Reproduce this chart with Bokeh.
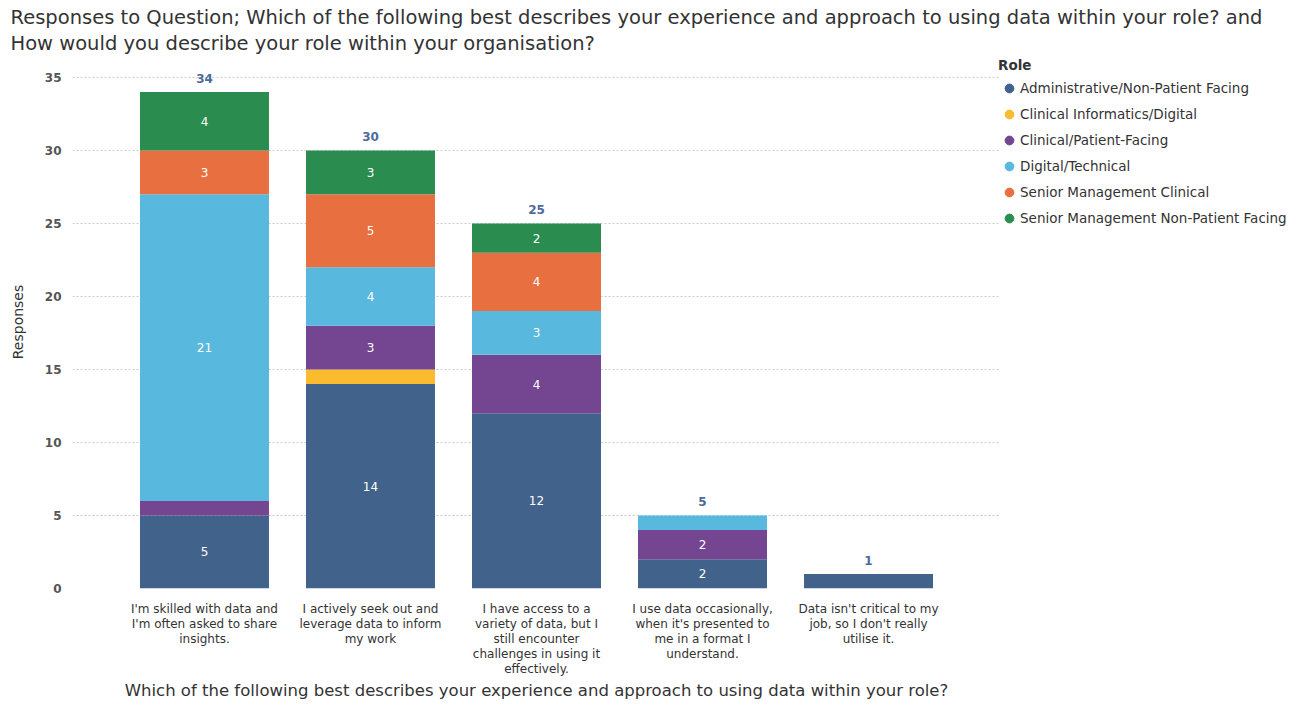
from bokeh.plotting import figure
from bokeh.models import FactorRange, Range1d, Legend, LegendItem, ColumnDataSource
from bokeh.core.properties import value
from bokeh.embed import file_html
from bokeh.resources import INLINE

categories = [
    "I'm skilled with data and\nI'm often asked to share\ninsights.",
    "I actively seek out and\nleverage data to inform\nmy work",
    "I have access to a\nvariety of data, but I\nstill encounter\nchallenges in using it\neffectively.",
    "I use data occasionally,\nwhen it's presented to\nme in a format I\nunderstand.",
    "Data isn't critical to my\njob, so I don't really\nutilise it.",
]
roles = [
    "Administrative/Non-Patient Facing",
    "Clinical Informatics/Digital",
    "Clinical/Patient-Facing",
    "Digital/Technical",
    "Senior Management Clinical",
    "Senior Management Non-Patient Facing",
]
admin = [5, 14, 12, 2, 1]
clin_info = [0, 1, 0, 0, 0]
clinical = [1, 3, 4, 2, 0]
digital = [21, 4, 3, 1, 0]
senior_clin = [3, 5, 4, 0, 0]
senior_np = [4, 3, 2, 0, 0]
colors = ["#41628a", "#fbbb2e", "#744590", "#58b8de", "#e87040", "#2a8c4e"]
y_ticks = [0, 5, 10, 15, 20, 25, 30, 35]

series = [admin, clin_info, clinical, digital, senior_clin, senior_np]
keys = ["s%d" % i for i in range(len(roles))]

data = {"cat": categories}
for k, s in zip(keys, series):
    data[k] = s
source = ColumnDataSource(data)

p = figure(
    frame_width=928, frame_height=533,
    x_range=FactorRange(factors=categories, range_padding=0.295, range_padding_units="absolute"),
    y_range=Range1d(0, 36.5),
    output_backend="svg", toolbar_location=None,
    min_border_left=72, min_border_right=311, min_border_top=55, min_border_bottom=121,
)
p.title.text = ("Responses to Question; Which of the following best describes your experience and approach to using data within your role? and\n"
                "How would you describe your role within your organisation?")
p.title.text_font = "DejaVu Sans"
p.title.text_font_size = "19.5px"
p.title.text_font_style = "normal"
p.title.text_color = "#333333"
p.title.text_line_height = 1.15
p.title.offset = -62
p.title.standoff = 0

p.vbar_stack(keys, x="cat", width=0.777, color=colors, source=source, line_color=None)

# segment labels
lx, ly, lt = [], [], []
for i, c in enumerate(categories):
    base = 0
    for s in series:
        v = s[i]
        if v >= 2:
            lx.append(c)
            ly.append(base + v / 2)
            lt.append(str(v))
        base += v
p.text(x=lx, y=ly, text=lt, text_color="white", text_font=value("DejaVu Sans"),
       text_font_size="12px", text_align="center", text_baseline="middle")

totals = [sum(s[i] for s in series) for i in range(len(categories))]
p.text(x=categories, y=totals, text=[str(t) for t in totals], text_color="#4e6a9a",
       text_font=value("DejaVu Sans"), text_font_size="12px", text_font_style="bold",
       text_align="center", text_baseline="bottom", y_offset=-9)

# legend with circle markers (hidden NaN points, only used for legend glyphs)
items = []
for r, c in zip(roles, colors):
    rr = p.scatter(x=[categories[0]], y=[float("nan")], marker="circle", size=10, color=c)
    items.append(LegendItem(label=r, renderers=[rr]))
legend = Legend(items=items, title="Role", location=(-2, 358),
                title_text_font="DejaVu Sans", title_text_font_size="13.5px",
                title_text_font_style="bold", title_text_color="#333333",
                title_standoff=3,
                label_text_font="DejaVu Sans", label_text_font_size="13.5px",
                label_text_color="#333333", glyph_width=22, glyph_height=24,
                label_height=24, spacing=2, label_standoff=0, padding=0, margin=0,
                border_line_color=None, background_fill_alpha=0)
p.add_layout(legend, "right")

p.xgrid.grid_line_color = None
p.ygrid.grid_line_color = "#c8c8c8"
p.ygrid.grid_line_dash = "2 2"
p.outline_line_color = None

p.yaxis.ticker = y_ticks
p.yaxis.axis_line_color = None
p.yaxis.major_tick_line_color = None
p.yaxis.minor_tick_line_color = None
p.yaxis.major_label_text_font = "DejaVu Sans"
p.yaxis.major_label_text_font_size = "12px"
p.yaxis.major_label_text_font_style = "bold"
p.yaxis.major_label_text_color = "#555555"
p.yaxis.axis_label = "Responses"
p.yaxis.axis_label_text_font = "DejaVu Sans"
p.yaxis.axis_label_text_font_size = "14px"
p.yaxis.axis_label_text_font_style = "normal"
p.yaxis.axis_label_text_color = "#333333"
p.yaxis.axis_label_standoff = 16

p.xaxis.axis_line_color = None
p.xaxis.major_tick_line_color = None
p.xaxis.major_label_text_font = "DejaVu Sans"
p.xaxis.major_label_text_font_size = "12px"
p.xaxis.major_label_text_line_height = 1.08
p.xaxis.major_label_text_color = "#333333"
p.xaxis.major_label_standoff = 7
p.xaxis.axis_label = "Which of the following best describes your experience and approach to using data within your role?"
p.xaxis.axis_label_text_font = "DejaVu Sans"
p.xaxis.axis_label_text_font_size = "16.5px"
p.xaxis.axis_label_text_font_style = "normal"
p.xaxis.axis_label_text_color = "#333333"
p.xaxis.axis_label_standoff = 2

open("out.html", "w").write(file_html(p, INLINE))
